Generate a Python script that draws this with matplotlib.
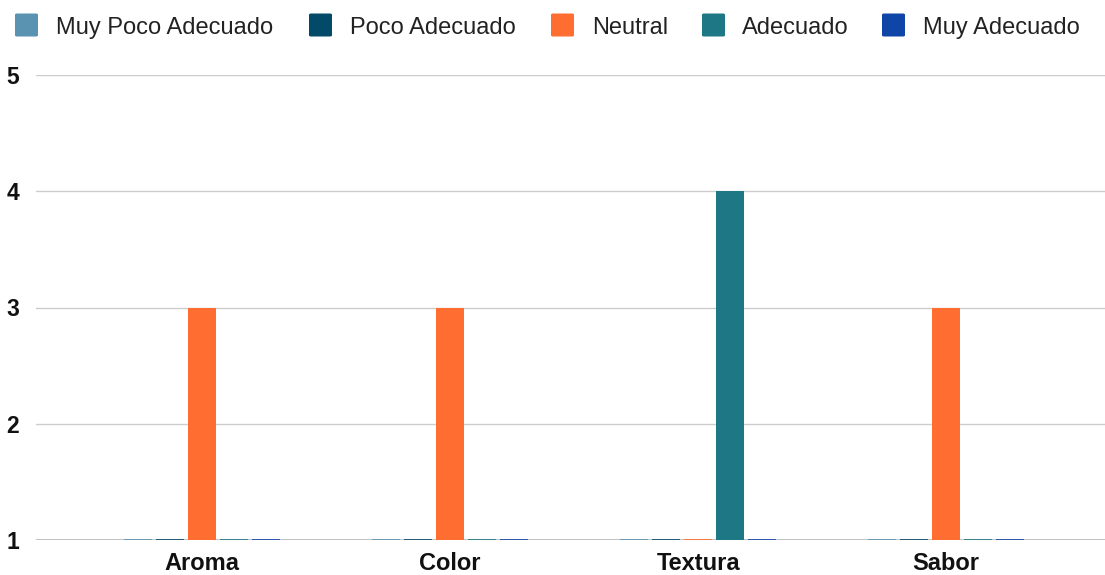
import numpy as np
import matplotlib
matplotlib.use("Agg")
import matplotlib.pyplot as plt
from matplotlib.patches import FancyBboxPatch

# Puntuaciones por atributo y nivel de aceptación
categorias = ["Aroma", "Color", "Textura", "Sabor"]
niveles = ["Muy Poco Adecuado", "Poco Adecuado", "Neutral", "Adecuado", "Muy Adecuado"]
muy_poco_adecuado = [1, 1, 1, 1]
poco_adecuado = [1, 1, 1, 1]
neutral = [3, 3, 1, 3]
adecuado = [1, 1, 4, 1]
muy_adecuado = [1, 1, 1, 1]
colores = ["#5a93b1", "#034a68", "#ff6d31", "#1e7785", "#1045a8"]

valores = [muy_poco_adecuado, poco_adecuado, neutral, adecuado, muy_adecuado]

plt.rcParams["font.family"] = ["Liberation Sans", "DejaVu Sans"]

W, H = 1105, 575
fig = plt.figure(figsize=(W / 100, H / 100), dpi=100)
ax = fig.add_axes([36 / W, 35 / H, 1069 / W, 465 / H])

x = np.arange(len(categorias))
ancho = 0.113
paso = 0.129
base = 1
for i, (vals, color) in enumerate(zip(valores, colores)):
    pos = x + (i - 2) * paso
    alturas = np.array(vals) - base
    ax.bar(pos, alturas, width=ancho, bottom=base, color=color, zorder=3)
    # los valores en la base se ven como una línea fina
    for p, v in zip(pos, vals):
        if v == base:
            ax.plot([p - ancho / 2, p + ancho / 2], [base + 0.004, base + 0.004],
                    color=color, lw=1.2, zorder=3, solid_capstyle="butt")

ax.set_xlim(-0.67, 3.64)
ax.set_ylim(1, 5)
ax.set_yticks([1, 2, 3, 4, 5])
ax.yaxis.grid(True, color="#cccccc", lw=1, zorder=0)
ax.axhline(1, color="#b8b8b8", lw=1.2, zorder=2)
for s in ax.spines.values():
    s.set_visible(False)
ax.tick_params(axis="both", length=0)
ax.tick_params(axis="y", pad=12)
ax.tick_params(axis="x", pad=9)
ax.set_xticks(x)
ax.set_xticklabels(categorias, fontsize=17, fontweight="bold", color="#111111")
for t in ax.get_yticklabels():
    t.set_fontsize(16.5)
    t.set_fontweight("bold")
    t.set_color("#111111")

# leyenda superior colocada a mano
cuadro_x = [15, 309, 551, 702, 882]
texto_x = [56, 350, 592, 742, 923]
lado = 23
y_centro = 25
for cx, tx, nombre, color in zip(cuadro_x, texto_x, niveles, colores):
    fig.patches.append(FancyBboxPatch(
        (cx / W, (H - y_centro - lado / 2) / H), lado / W, lado / H,
        boxstyle="round,pad=0,rounding_size=0.002", transform=fig.transFigure,
        facecolor=color, edgecolor="none"))
    fig.text(tx / W, (H - y_centro - 9) / H, nombre, fontsize=17, color="#222222",
             va="baseline", ha="left")

fig.savefig("out.png", dpi=100)
